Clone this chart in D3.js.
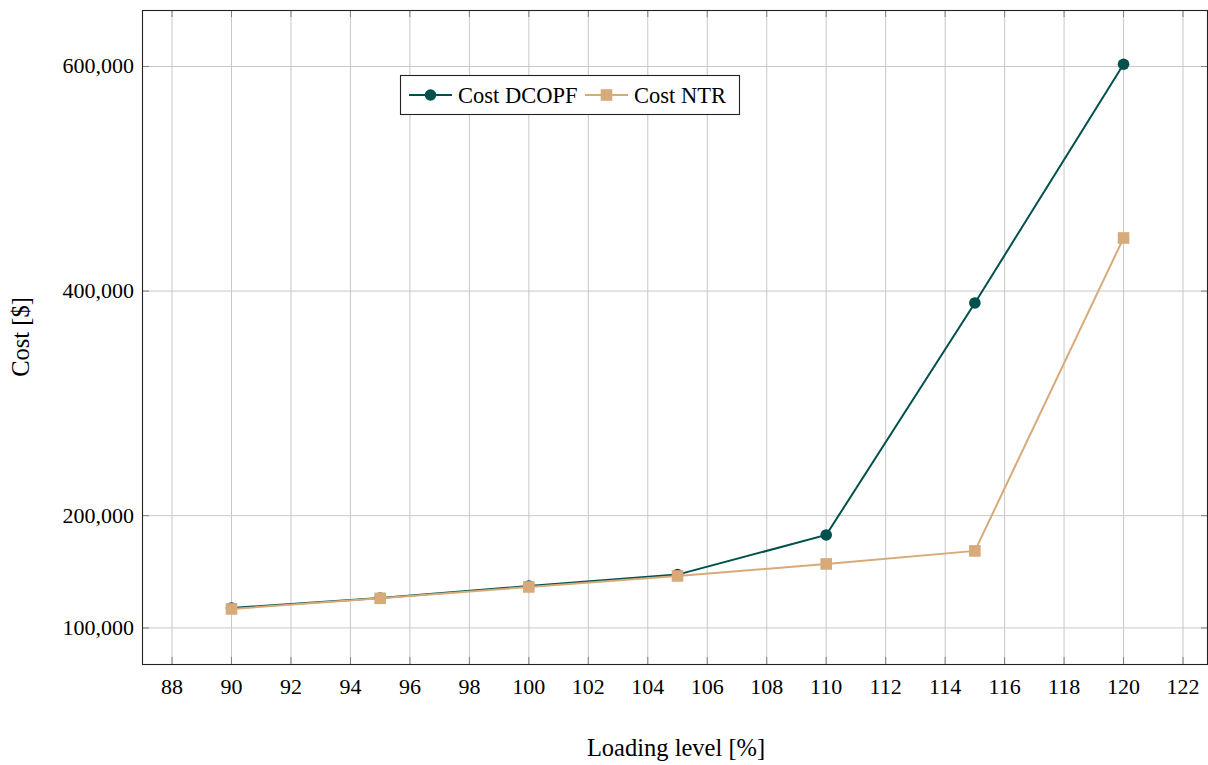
<!DOCTYPE html>
<html><head><meta charset="utf-8">
<script src="https://cdn.jsdelivr.net/npm/d3@7"></script>
<style>body{margin:0;background:#fff}svg{display:block}text{font-family:"Liberation Serif","Times New Roman",serif;fill:#000}</style>
</head><body><svg id="c" width="1208" height="765"></svg>
<script>
const loading = [90, 95, 100, 105, 110, 115, 120];
const costDCOPF = [117800, 126700, 137400, 147500, 182800, 389400, 602000];
const costNTR = [116900, 126400, 136500, 146300, 157000, 168600, 447300];
const xTicks = [88, 90, 92, 94, 96, 98, 100, 102, 104, 106, 108, 110, 112, 114, 116, 118, 120, 122];
const yTicks = [100000, 200000, 400000, 600000];
const seriesNames = ["Cost DCOPF", "Cost NTR"];

const svg = d3.select("#c");
const L = 142, R = 1208, T = 10, B = 664;
const x = d3.scaleLinear().domain([86.99, 122.84]).range([L, R]);
const y = d3.scaleLinear().domain([67900, 650300]).range([B, T]);
const c1 = "#00504d", c2 = "#d8aa7a";
const grid = "#c8c8c8";
const fmt = d3.format(",");

const g = svg.append("g");
g.selectAll(".gx").data(xTicks).join("line").attr("x1", d => x(d)).attr("x2", d => x(d)).attr("y1", T).attr("y2", B).attr("stroke", grid).attr("stroke-width", 1);
g.selectAll(".gy").data(yTicks).join("line").attr("y1", d => y(d)).attr("y2", d => y(d)).attr("x1", L).attr("x2", R).attr("stroke", grid).attr("stroke-width", 1);
const tk = "#808080";
g.selectAll(".tb").data(xTicks).join("line").attr("x1", d => x(d)).attr("x2", d => x(d)).attr("y1", B).attr("y2", B - 7).attr("stroke", tk);
g.selectAll(".tt").data(xTicks).join("line").attr("x1", d => x(d)).attr("x2", d => x(d)).attr("y1", T).attr("y2", T + 7).attr("stroke", tk);
g.selectAll(".tl").data(yTicks).join("line").attr("y1", d => y(d)).attr("y2", d => y(d)).attr("x1", L).attr("x2", L + 7).attr("stroke", tk);
g.selectAll(".tr").data(yTicks).join("line").attr("y1", d => y(d)).attr("y2", d => y(d)).attr("x1", R).attr("x2", R - 7).attr("stroke", tk);
g.append("rect").attr("x", L + 0.5).attr("y", T + 0.5).attr("width", R - L - 1).attr("height", B - T).attr("fill", "none").attr("stroke", "#222").attr("stroke-width", 1.1);

g.selectAll(".xl").data(xTicks).join("text").attr("x", d => x(d)).attr("y", B + 30).attr("text-anchor", "middle").attr("font-size", 22).text(d => d);
g.selectAll(".yl").data(yTicks).join("text").attr("x", L - 8).attr("y", d => y(d) + 7).attr("text-anchor", "end").attr("font-size", 22).text(d => fmt(d));

svg.append("text").attr("x", 676).attr("y", 756).attr("text-anchor", "middle").attr("font-size", 24.5).text("Loading level [%]");
svg.append("text").attr("transform", `translate(29,${(T + B) / 2}) rotate(-90)`).attr("text-anchor", "middle").attr("font-size", 24.5).text("Cost [$]");

const line = d3.line().x(d => x(d[0])).y(d => y(d[1]));
const d1 = loading.map((v, i) => [v, costDCOPF[i]]);
const d2 = loading.map((v, i) => [v, costNTR[i]]);
g.append("path").datum(d1).attr("d", line).attr("fill", "none").attr("stroke", c1).attr("stroke-width", 2);
g.selectAll(".m1").data(d1).join("circle").attr("cx", d => x(d[0])).attr("cy", d => y(d[1])).attr("r", 5.8).attr("fill", c1);
g.append("path").datum(d2).attr("d", line).attr("fill", "none").attr("stroke", c2).attr("stroke-width", 2);
g.selectAll(".m2").data(d2).join("rect").attr("x", d => x(d[0]) - 5.8).attr("y", d => y(d[1]) - 5.8).attr("width", 11.6).attr("height", 11.6).attr("fill", c2);

const lg = svg.append("g");
lg.append("rect").attr("x", 400.5).attr("y", 75.5).attr("width", 339).attr("height", 39).attr("fill", "#fff").attr("stroke", "#222").attr("stroke-width", 1.1);
lg.append("line").attr("x1", 409).attr("x2", 452).attr("y1", 95).attr("y2", 95).attr("stroke", c1).attr("stroke-width", 2);
lg.append("circle").attr("cx", 430.5).attr("cy", 95).attr("r", 5.8).attr("fill", c1);
lg.append("text").attr("x", 458).attr("y", 102.5).attr("font-size", 22.5).text(seriesNames[0]);
lg.append("line").attr("x1", 585).attr("x2", 628).attr("y1", 95).attr("y2", 95).attr("stroke", c2).attr("stroke-width", 2);
lg.append("rect").attr("x", 600.7).attr("y", 89.2).attr("width", 11.6).attr("height", 11.6).attr("fill", c2);
lg.append("text").attr("x", 634).attr("y", 102.5).attr("font-size", 22.5).text(seriesNames[1]);
</script></body></html>
